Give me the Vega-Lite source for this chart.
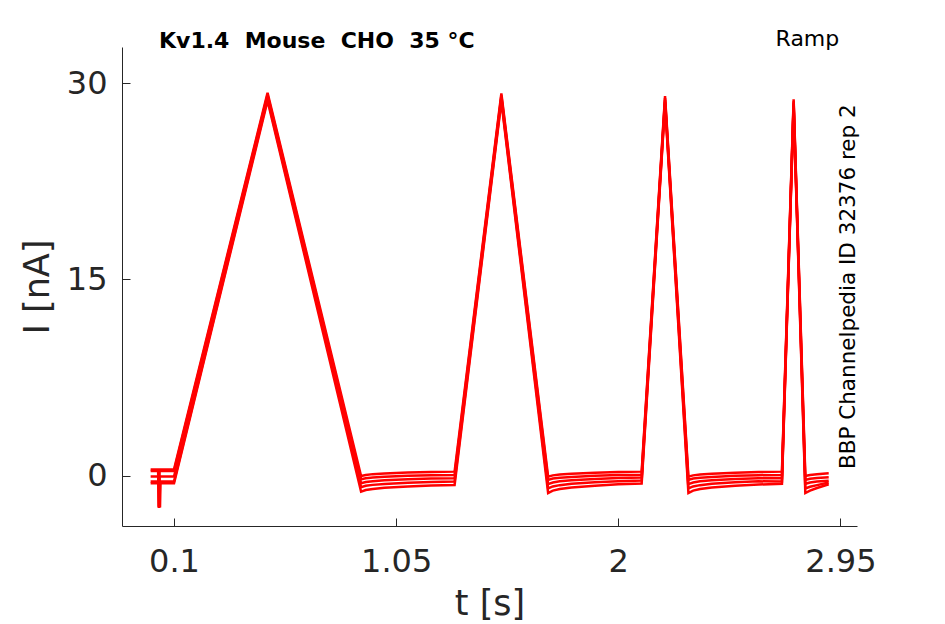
{
  "$schema": "https://vega.github.io/schema/vega-lite/v6.json",
  "width": 735,
  "height": 479,
  "autosize": {"type": "none"},
  "padding": {"left": 122, "top": 47, "right": 88, "bottom": 98},
  "background": "white",
  "config": {
    "view": {"stroke": null},
    "font": "DejaVu Sans",
    "axis": {
      "grid": false,
      "domainColor": "#262626",
      "domainWidth": 1,
      "tickColor": "#262626",
      "tickWidth": 1,
      "tickSize": -8,
      "labelColor": "#262626",
      "titleColor": "#262626",
      "labelFont": "DejaVu Sans",
      "titleFont": "DejaVu Sans",
      "labelFontSize": 32,
      "titleFontSize": 35,
      "titleFontWeight": "normal"
    }
  },
  "datasets": {
    "traces": [
      {"t": 0.0, "r1": 0.5, "r2": 0.38, "r3": -0.05, "r4": -0.42, "r5": -0.55},
      {"t": 0.032, "r1": 0.5, "r2": 0.38, "r3": -0.05, "r4": -0.42, "r5": -0.55},
      {"t": 0.034, "r1": -2.4, "r2": 0.38, "r3": -0.05, "r4": -0.42, "r5": -0.55},
      {"t": 0.036, "r1": 0.5, "r2": -2.3, "r3": -2.45, "r4": -0.42, "r5": -0.55},
      {"t": 0.038, "r1": 0.5, "r2": 0.38, "r3": -0.05, "r4": -2.35, "r5": -0.55},
      {"t": 0.04, "r1": 0.5, "r2": 0.38, "r3": -0.05, "r4": -0.42, "r5": -2.4},
      {"t": 0.042, "r1": 0.5, "r2": 0.38, "r3": -0.05, "r4": -0.42, "r5": -0.55},
      {"t": 0.1, "r1": 0.5, "r2": 0.38, "r3": -0.05, "r4": -0.42, "r5": -0.55},
      {"t": 0.5, "r1": 29.25, "r2": 29.1, "r3": 28.95, "r4": 28.8, "r5": 28.65},
      {"t": 0.9, "r1": 0.0, "r2": -0.25, "r3": -0.56, "r4": -0.86, "r5": -1.2},
      {"t": 0.92, "r1": 0.08, "r2": -0.17, "r3": -0.46, "r4": -0.75, "r5": -1.07},
      {"t": 0.95, "r1": 0.14, "r2": -0.11, "r3": -0.4, "r4": -0.68, "r5": -0.99},
      {"t": 1.0, "r1": 0.19, "r2": -0.06, "r3": -0.33, "r4": -0.61, "r5": -0.9},
      {"t": 1.1, "r1": 0.26, "r2": 0.01, "r3": -0.26, "r4": -0.52, "r5": -0.8},
      {"t": 1.2, "r1": 0.3, "r2": 0.05, "r3": -0.2, "r4": -0.46, "r5": -0.73},
      {"t": 1.3, "r1": 0.33, "r2": 0.08, "r3": -0.17, "r4": -0.43, "r5": -0.69},
      {"t": 1.5, "r1": 29.2, "r2": 29.05, "r3": 28.9, "r4": 28.75, "r5": 28.6},
      {"t": 1.7, "r1": -0.05, "r2": -0.3, "r3": -0.62, "r4": -0.95, "r5": -1.3},
      {"t": 1.72, "r1": 0.045, "r2": -0.2, "r3": -0.5, "r4": -0.8, "r5": -1.12},
      {"t": 1.75, "r1": 0.11, "r2": -0.13, "r3": -0.41, "r4": -0.7, "r5": -1.0},
      {"t": 1.8, "r1": 0.17, "r2": -0.07, "r3": -0.33, "r4": -0.6, "r5": -0.88},
      {"t": 1.9, "r1": 0.25, "r2": 0.01, "r3": -0.23, "r4": -0.48, "r5": -0.74},
      {"t": 2.0, "r1": 0.3, "r2": 0.07, "r3": -0.16, "r4": -0.4, "r5": -0.64},
      {"t": 2.1, "r1": 0.33, "r2": 0.1, "r3": -0.12, "r4": -0.35, "r5": -0.58},
      {"t": 2.2, "r1": 29.0, "r2": 28.85, "r3": 28.7, "r4": 28.55, "r5": 28.4},
      {"t": 2.3, "r1": -0.05, "r2": -0.3, "r3": -0.62, "r4": -0.95, "r5": -1.3},
      {"t": 2.32, "r1": 0.045, "r2": -0.2, "r3": -0.5, "r4": -0.8, "r5": -1.12},
      {"t": 2.35, "r1": 0.11, "r2": -0.13, "r3": -0.41, "r4": -0.7, "r5": -1.0},
      {"t": 2.4, "r1": 0.17, "r2": -0.07, "r3": -0.33, "r4": -0.6, "r5": -0.88},
      {"t": 2.5, "r1": 0.25, "r2": 0.01, "r3": -0.23, "r4": -0.48, "r5": -0.74},
      {"t": 2.6, "r1": 0.3, "r2": 0.06, "r3": -0.17, "r4": -0.41, "r5": -0.65},
      {"t": 2.7, "r1": 0.33, "r2": 0.08, "r3": -0.18, "r4": -0.43, "r5": -0.6},
      {"t": 2.75, "r1": 28.75, "r2": 28.6, "r3": 28.45, "r4": 28.3, "r5": 28.15},
      {"t": 2.8, "r1": 0.0, "r2": -0.3, "r3": -0.6, "r4": -0.95, "r5": -1.3},
      {"t": 2.82, "r1": 0.08, "r2": -0.22, "r3": -0.5, "r4": -0.82, "r5": -1.12},
      {"t": 2.85, "r1": 0.13, "r2": -0.16, "r3": -0.43, "r4": -0.7, "r5": -0.92},
      {"t": 2.9, "r1": 0.2, "r2": -0.1, "r3": -0.36, "r4": -0.5, "r5": -0.63}
    ]
  },
  "layer": [
    {
      "data": {"name": "traces"},
      "transform": [
        {"fold": ["r1", "r2", "r3", "r4", "r5"], "as": ["rep", "I"]}
      ],
      "mark": {"type": "line", "color": "#ff0000", "strokeWidth": 2.5, "strokeJoin": "miter", "clip": true},
      "encoding": {
        "x": {
          "field": "t",
          "type": "quantitative",
          "title": "t [s]",
          "scale": {"domain": [-0.1225, 3.021], "nice": false, "zero": false},
          "axis": {"values": [0.1, 1.05, 2, 2.95], "labelExpr": "'' + datum.value", "labelPadding": 28, "titlePadding": 9}
        },
        "y": {
          "field": "I",
          "type": "quantitative",
          "title": "I [nA]",
          "scale": {"domain": [-3.82, 32.75], "nice": false, "zero": false},
          "axis": {"values": [0, 15, 30], "labelPadding": 23, "titlePadding": 11}
        },
        "detail": {"field": "rep"}
      }
    },
    {
      "data": {"values": [{"label": "Kv1.4\u00a0\u00a0Mouse\u00a0\u00a0CHO\u00a0\u00a035\u00a0°C"}]},
      "mark": {"type": "text", "align": "left", "baseline": "alphabetic", "fontSize": 22, "fontWeight": "bold", "font": "DejaVu Sans", "color": "black"},
      "encoding": {
        "x": {"datum": 0.0358, "type": "quantitative", "title": "t [s]"},
        "y": {"datum": 32.67, "type": "quantitative", "title": "I [nA]"},
        "text": {"field": "label"}
      }
    },
    {
      "data": {"values": [{"label": "Ramp"}]},
      "mark": {"type": "text", "align": "center", "baseline": "alphabetic", "fontSize": 22, "font": "DejaVu Sans", "color": "black"},
      "encoding": {
        "x": {"datum": 2.809, "type": "quantitative", "title": "t [s]"},
        "y": {"datum": 32.82, "type": "quantitative", "title": "I [nA]"},
        "text": {"field": "label"}
      }
    },
    {
      "data": {"values": [{"label": "BBP Channelpedia ID 32376 rep 2"}]},
      "mark": {"type": "text", "align": "center", "baseline": "middle", "angle": 270, "fontSize": 21.5, "font": "DejaVu Sans", "color": "black"},
      "encoding": {
        "x": {"datum": 2.988, "type": "quantitative", "title": "t [s]"},
        "y": {"datum": 14.45, "type": "quantitative", "title": "I [nA]"},
        "text": {"field": "label"}
      }
    }
  ]
}
